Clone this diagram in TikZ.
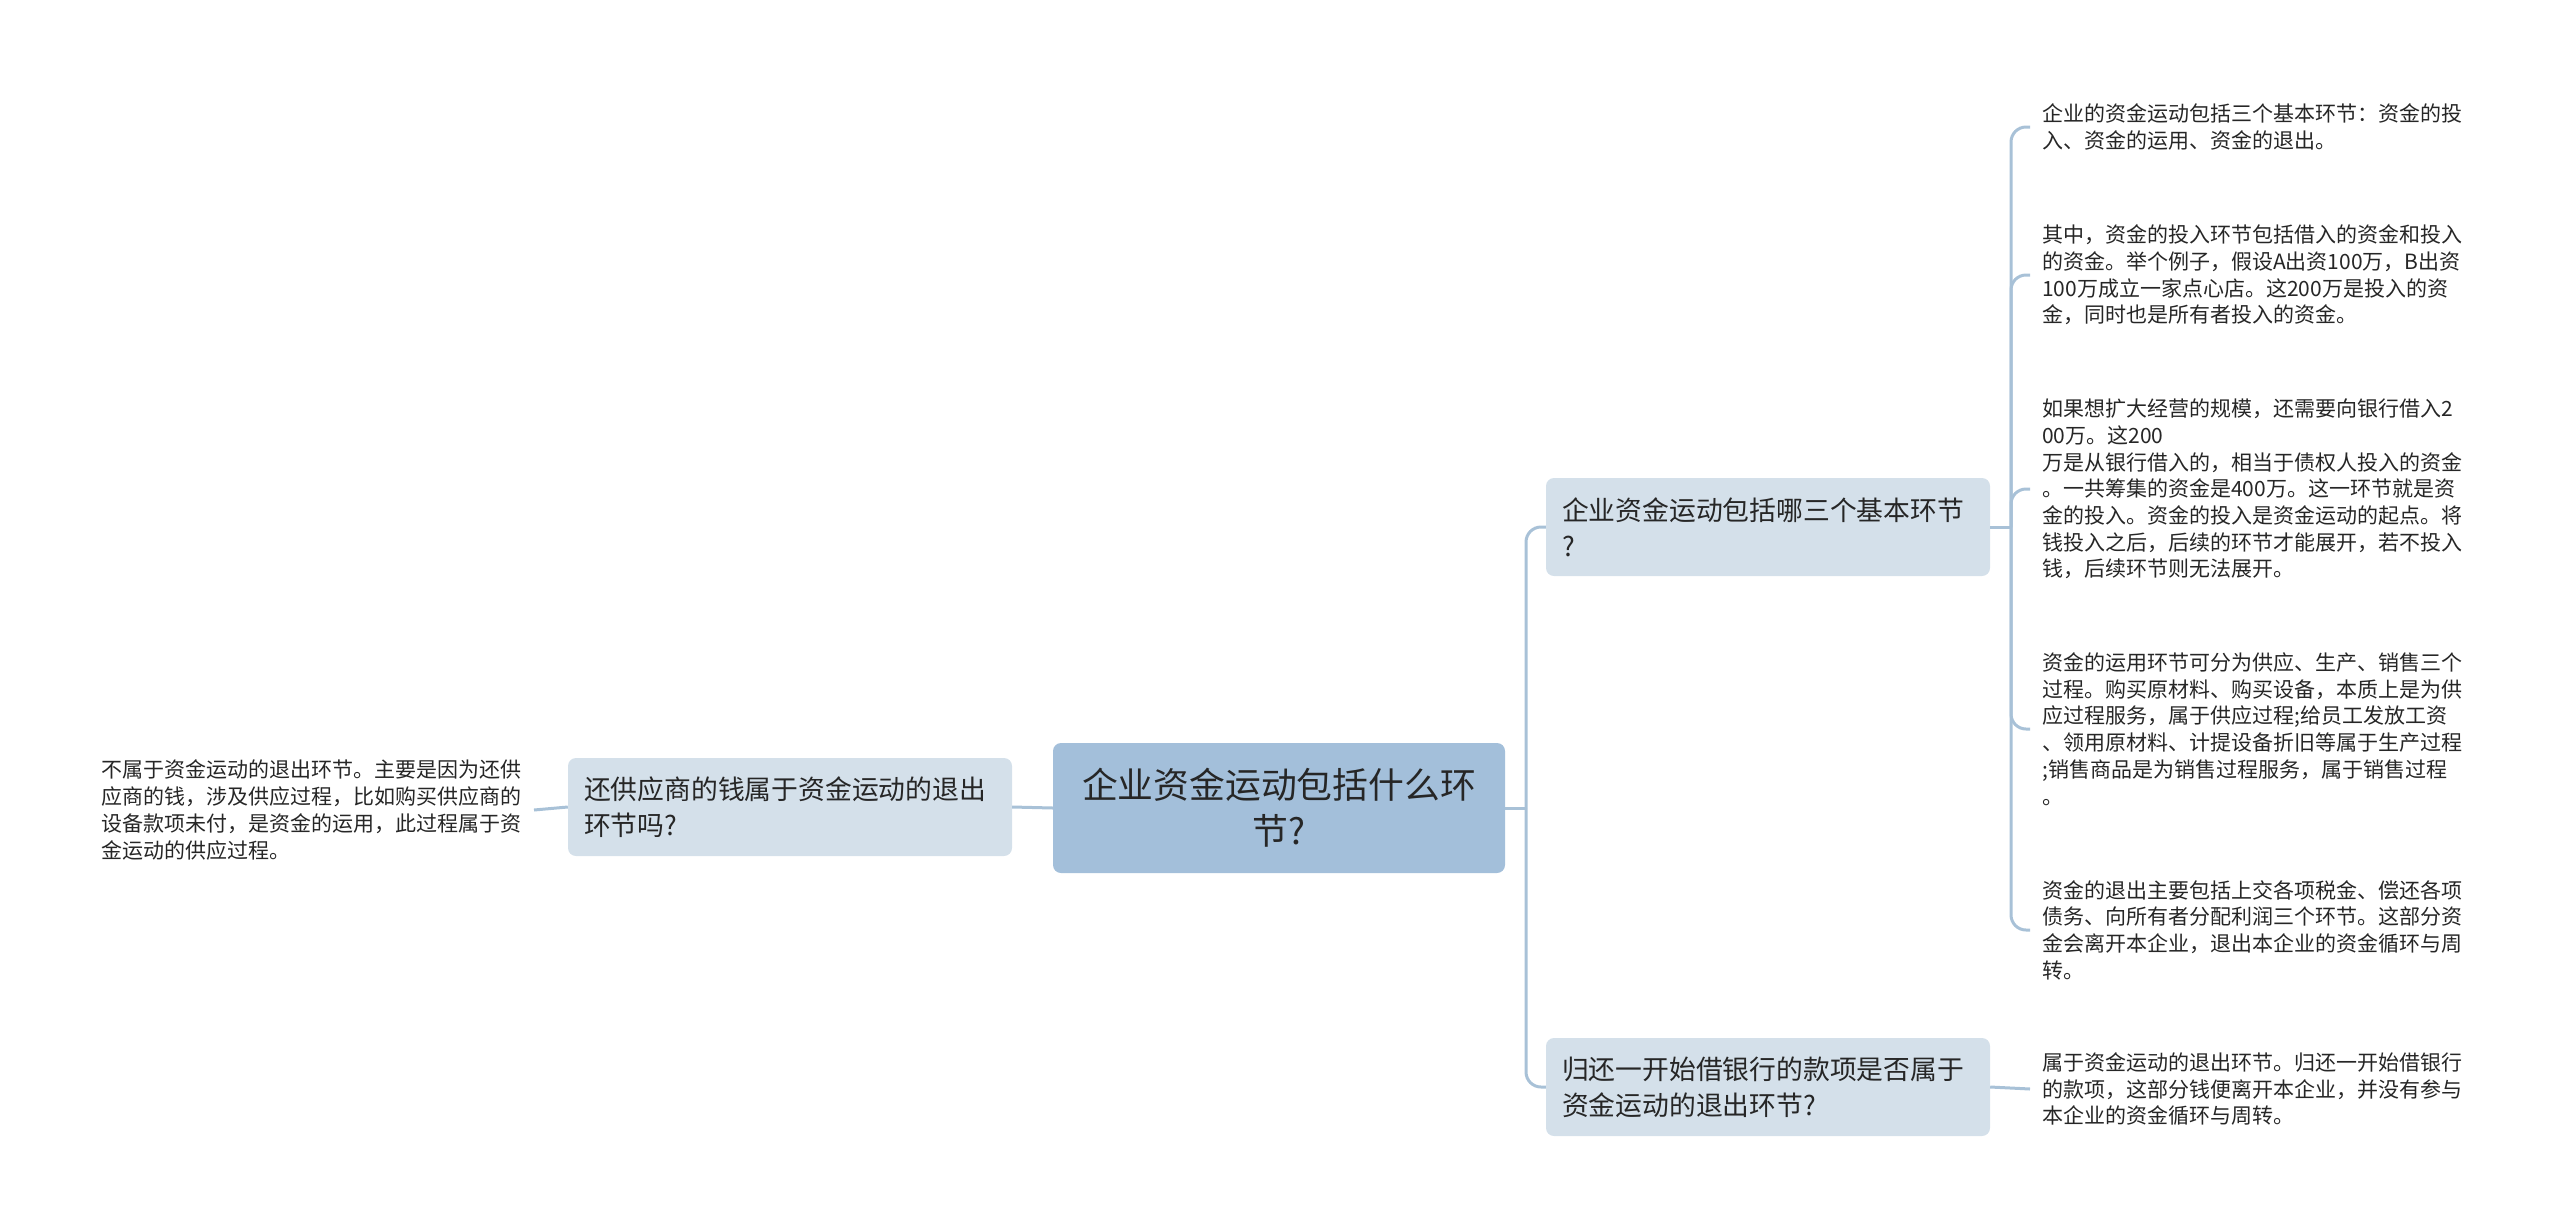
\documentclass[tikz,border=0pt]{standalone}
\usepackage{fontspec}
\setmainfont{Noto Sans CJK SC}
\usetikzlibrary{positioning}
\definecolor{linkblue}{HTML}{A8C1D7}
\definecolor{rootfill}{HTML}{A3BFDA}
\definecolor{topicfill}{HTML}{D4E0EA}
\definecolor{inktext}{HTML}{262626}

\begin{document}
\begin{tikzpicture}[x=1pt,y=-1pt,
  rootbox/.style={fill=rootfill,rounded corners=8pt,text=inktext,align=center,
    text width=420pt,minimum width=452pt,minimum height=130pt,inner xsep=16pt,
    font=\fontsize{35.8}{45.7}\selectfont},
  topicbox/.style={fill=topicfill,rounded corners=8pt,text=inktext,align=left,
    text width=412pt,minimum width=444pt,minimum height=98pt,inner xsep=16pt,
    font=\fontsize{26.8}{36}\selectfont},
  leafnote/.style={text=inktext,align=left,inner xsep=12pt,inner ysep=0pt,
    font=\fontsize{21}{26.7}\selectfont},
  link/.style={draw=linkblue,line width=3pt,rounded corners=15pt}]
\useasboundingbox (0,0) rectangle (2560,1229);

% centre and first level
\node [rootbox] (root) at (1279,808) {企业资金运动包括什么环\\节?};
\node [topicbox] (supplier) at (790,807) {还供应商的钱属于资金运动的退出\\环节吗?};
\node [topicbox] (stages) at (1768,527) {企业资金运动包括哪三个基本环节\\?};
\node [topicbox] (bankloan) at (1768,1087) {归还一开始借银行的款项是否属于\\资金运动的退出环节?};

% leaves
\node [leafnote,anchor=east] (supplierans) at (534,810) {不属于资金运动的退出环节。主要是因为还供\\应商的钱，涉及供应过程，比如购买供应商的\\设备款项未付，是资金的运用，此过程属于资\\金运动的供应过程。};
\node [leafnote,anchor=west] (stageA) at (2030,127) {企业的资金运动包括三个基本环节：资金的投\\入、资金的运用、资金的退出。};
\node [leafnote,anchor=west] (stageB) at (2030,275) {其中，资金的投入环节包括借入的资金和投入\\的资金。举个例子，假设A出资100万，B出资\\100万成立一家点心店。这200万是投入的资\\金，同时也是所有者投入的资金。};
\node [leafnote,anchor=west] (stageC) at (2030,489) {如果想扩大经营的规模，还需要向银行借入2\\00万。这200\\万是从银行借入的，相当于债权人投入的资金\\。一共筹集的资金是400万。这一环节就是资\\金的投入。资金的投入是资金运动的起点。将\\钱投入之后，后续的环节才能展开，若不投入\\钱，后续环节则无法展开。};
\node [leafnote,anchor=west] (stageD) at (2030,729) {资金的运用环节可分为供应、生产、销售三个\\过程。购买原材料、购买设备，本质上是为供\\应过程服务，属于供应过程;给员工发放工资\\、领用原材料、计提设备折旧等属于生产过程\\;销售商品是为销售过程服务，属于销售过程\\。};
\node [leafnote,anchor=west] (stageE) at (2030,930) {资金的退出主要包括上交各项税金、偿还各项\\债务、向所有者分配利润三个环节。这部分资\\金会离开本企业，退出本企业的资金循环与周\\转。};
\node [leafnote,anchor=west] (bankans) at (2030,1089) {属于资金运动的退出环节。归还一开始借银行\\的款项，这部分钱便离开本企业，并没有参与\\本企业的资金循环与周转。};

% connectors
\coordinate (rootfork) at (1526,808);
\coordinate (stagefork) at (2011,527);
\draw [link] (root.east) -- (rootfork);
\draw [link] (rootfork) |- (stages.west);
\draw [link] (rootfork) |- (bankloan.west);
\draw [link] (root.west) -- (supplier.east);
\draw [link] (supplier.west) -- (supplierans.east);
\draw [link] (stages.east) -- (stagefork);
\foreach \leaf in {stageA,stageB,stageC,stageD,stageE}
  \draw [link] (stagefork) |- (\leaf.west);
\draw [link] (bankloan.east) -- (bankans.west);
\end{tikzpicture}
\end{document}
